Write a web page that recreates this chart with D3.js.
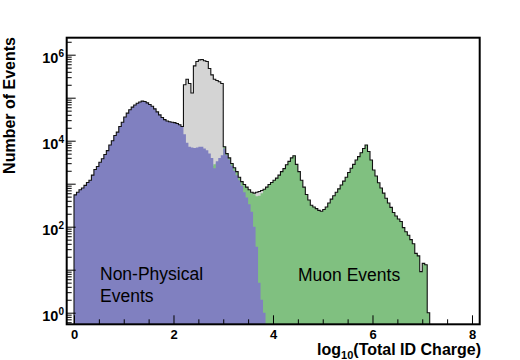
<!DOCTYPE html>
<html><head><meta charset="utf-8">
<script src="https://cdn.jsdelivr.net/npm/d3@7/dist/d3.min.js"></script>
<style>
body{margin:0;background:#fff}
svg{display:block}
text{font-family:"Liberation Sans",Arial,Helvetica,sans-serif}
</style>
</head><body>
<svg id="chart" width="520" height="360"></svg>
<script>
// ---- data (histogram, 0.05 wide bins starting at 0) ----
const binStart = 0, binWidth = 0.05;

const totalEvents = [
  550,631,724,794,912,1070,1200,1580,2140,2510,
  3160,3800,4790,5890,7940,10000,13200,15800,21400,26900,
  35500,43700,52500,60300,67600,74100,79400,83200,81300,75900,
  69200,63100,55000,46800,39800,34700,30900,28800,27500,26900,
  26300,25100,23400,21400,200000,269000,214000,129000,550000,692000,
  759000,776000,724000,692000,479000,339000,269000,251000,234000,214000,
  7240,5010,3980,2950,2340,1910,1410,1120,955,832,
  724,631,603,631,661,692,741,832,955,1070,
  1200,1350,1580,1910,2240,2750,3310,3980,4470,2820,
  1910,1200,832,562,417,316,288,263,240,229,
  251,288,355,437,525,631,759,933,1150,1410,
  1820,2290,2820,3550,4270,5250,6610,7940,5620,3550,
  2090,1510,1050,794,603,457,355,282,214,178,
  151,132,95,76,63,50,40,24,21,9,
  14,13,1
];

const muonEvents = [
  0,0,0,0,0,0,0,0,0,0,
  0,0,0,0,0,0,0,0,0,0,
  0,0,0,0,0,0,0,0,0,0,
  0,0,0,0,0,0,0,0,0,0,
  0,0,0,0,0,0,0,0,0,0,
  1000,1260,1580,2000,2400,2630,2820,3020,3160,3550,
  7240,5010,3980,2950,2340,1910,1410,1120,955,832,
  724,620,570,513,525,603,724,832,955,1070,
  1200,1350,1580,1910,2240,2750,3310,3980,4470,2820,
  1910,1200,832,562,417,316,288,263,240,229,
  251,288,355,437,525,631,759,933,1150,1410,
  1820,2290,2820,3550,4270,5250,6610,7940,5620,3550,
  2090,1510,1050,794,603,457,355,282,214,178,
  151,132,95,76,63,50,40,24,21,9,
  14,13,1
];

const nonPhysicalEvents = [
  550,631,724,794,912,1070,1200,1580,2140,2510,
  3160,3800,4790,5890,7940,10000,13200,15800,21400,26900,
  35500,43700,52500,60300,67600,74100,79400,83200,81300,75900,
  69200,63100,55000,46800,39800,34700,30900,28800,27500,26900,
  26300,25100,23400,21400,14100,8910,7240,6920,6760,6920,
  7240,7240,6610,6030,5010,3980,2290,3310,3980,4570,
  6610,4570,3630,2630,2000,1580,1200,891,631,479,
  331,224,100,34,5,2,1
];

const xTickValues = [0, 2, 4, 6, 8];
const xMinorTickValues = [0.5,1,1.5,2.5,3,3.5,4.5,5,5.5,6.5,7,7.5];
const yLabelValues = [1, 1e2, 1e4, 1e6];
const yLabelExponents = ["0", "2", "4", "6"];

const xTitleMain = "log", xTitleSub = "10", xTitleRest = "(Total ID Charge)";
const yTitle = "Number of Events";
const annotations = [
  {lines: ["Non-Physical", "Events"], x: 100, y: 280},
  {lines: ["Muon Events"], x: 298, y: 281}
];

// ---- layout ----
const L = 66.7, R = 479.7, T = 37.7, B = 324.3;
const x = d3.scaleLinear().domain([-0.1467, 8.155]).range([L, R]);
const y = d3.scaleLog().domain([0.537, 2.485e6]).range([B, T]);

const svg = d3.select("#chart");
svg.append("defs").append("clipPath").attr("id", "plotclip")
  .append("rect").attr("x", L).attr("y", T).attr("width", R - L).attr("height", B - T);

const plot = svg.append("g").attr("clip-path", "url(#plotclip)");

function stepPoints(vals) {
  const pts = [];
  vals.forEach((v, i) => {
    const lo = binStart + i * binWidth;
    pts.push([lo, v], [lo + binWidth, v]);
  });
  return pts;
}
const area = d3.area()
  .x(d => x(d[0]))
  .y0(B)
  .y1(d => d[1] > 0 ? y(d[1]) : B);

plot.append("path").attr("d", area(stepPoints(totalEvents))).attr("fill", "#d4d4d4");
plot.append("path").attr("d", area(stepPoints(muonEvents))).attr("fill", "#80c080");
plot.append("path").attr("d", area(stepPoints(nonPhysicalEvents))).attr("fill", "#8080c0");

const outlinePts = [[binStart, 0]].concat(stepPoints(totalEvents))
  .concat([[binStart + totalEvents.length * binWidth, 0]]);
const line = d3.line().x(d => x(d[0])).y(d => d[1] > 0 ? y(d[1]) : B + 2);
plot.append("path").attr("d", line(outlinePts))
  .attr("fill", "none").attr("stroke", "#111").attr("stroke-width", 1.1);

// ---- axes ----
const allY = y.ticks();
const yMajor = allY.filter(v => Math.abs(Math.log10(v) - Math.round(Math.log10(v))) < 1e-9);
const yMinor = allY.filter(v => !yMajor.includes(v));

function styleAxis(g) {
  g.select(".domain").remove();
  g.selectAll(".tick line").attr("stroke", "#000").attr("stroke-width", 1);
}
svg.append("g").attr("transform", `translate(${L},0)`)
  .call(d3.axisRight(y).tickValues(yMinor).tickSize(5).tickFormat(""))
  .call(styleAxis);
svg.append("g").attr("transform", `translate(${L},0)`)
  .call(d3.axisRight(y).tickValues(yMajor).tickSize(9).tickFormat(""))
  .call(styleAxis);

svg.append("g").attr("transform", `translate(0,${B})`)
  .call(d3.axisBottom(x).tickValues(xMinorTickValues).tickSize(-5).tickFormat(""))
  .call(styleAxis);
const xAx = svg.append("g").attr("transform", `translate(0,${B})`)
  .call(d3.axisBottom(x).tickValues(xTickValues).tickSize(-9).tickPadding(5).tickFormat(d3.format("d")))
  .call(styleAxis);
xAx.selectAll(".tick text")
  .attr("font-family", '"Liberation Sans",Arial,sans-serif')
  .attr("font-size", 13).attr("font-weight", "bold").attr("fill", "#000");

// y tick labels 10^n
yLabelValues.forEach((v, i) => {
  const t = svg.append("text")
    .attr("x", 64).attr("y", y(v) + 8.5)
    .attr("text-anchor", "end")
    .attr("font-weight", "bold").attr("font-size", 14.5).attr("fill", "#000");
  t.append("tspan").text("10");
  t.append("tspan").attr("dy", -6).attr("font-size", 10).text(yLabelExponents[i]);
});

// frame
svg.append("rect").attr("x", L).attr("y", T).attr("width", R - L).attr("height", B - T)
  .attr("fill", "none").attr("stroke", "#000").attr("stroke-width", 2);

// titles
const xt = svg.append("text").attr("x", 481).attr("y", 355)
  .attr("text-anchor", "end").attr("font-weight", "bold").attr("font-size", 16).attr("fill", "#000");
xt.append("tspan").text(xTitleMain);
xt.append("tspan").attr("dy", 3.5).attr("font-size", 11).text(xTitleSub);
xt.append("tspan").attr("dy", -3.5).text(xTitleRest);

svg.append("text").attr("transform", "translate(15,37) rotate(-90)")
  .attr("text-anchor", "end").attr("font-weight", "bold").attr("font-size", 16).attr("fill", "#000")
  .text(yTitle);

// annotations
annotations.forEach(a => {
  a.lines.forEach((s, j) => {
    svg.append("text").attr("x", a.x).attr("y", a.y + j * 22)
      .attr("font-size", 17.5).attr("fill", "#000").text(s);
  });
});
</script>
</body></html>
